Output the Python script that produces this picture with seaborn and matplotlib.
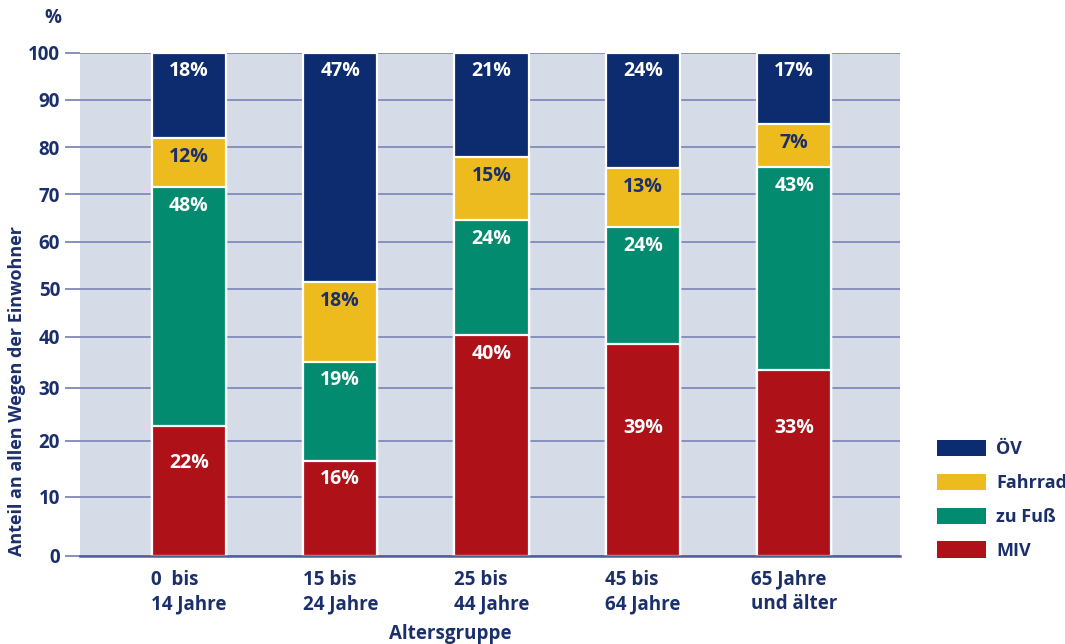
import numpy as np
import pandas as pd
import matplotlib
matplotlib.use("Agg")
import matplotlib.pyplot as plt
import seaborn as sns
from matplotlib.patches import Patch
from matplotlib.ticker import FixedLocator, FuncFormatter

# ---------------- data ----------------
categories = ["0  bis\n14 Jahre", "15 bis\n24 Jahre", "25 bis\n44 Jahre",
              "45 bis\n64 Jahre", "65 Jahre\nund älter"]
modes = ["MIV", "zu Fuß", "Fahrrad", "ÖV"]          # bottom -> top
miv = [22.8, 16.5, 40.4, 38.6, 33.5]
zu_fuss = [48.7, 18.6, 24.2, 24.5, 42.3]
fahrrad = [10.3, 16.3, 13.3, 12.5, 9.0]
oev = [18.2, 48.6, 22.1, 24.4, 15.2]
miv_lbl = ["22%", "16%", "40%", "39%", "33%"]
fuss_lbl = ["48%", "19%", "24%", "24%", "43%"]
rad_lbl = ["12%", "18%", "15%", "13%", "7%"]
oev_lbl = ["18%", "47%", "21%", "24%", "17%"]
y_ticks = [0, 10, 20, 30, 40, 50, 60, 70, 80, 90, 100]

# ---------------- style ----------------
C_OEV, C_RAD, C_FUSS, C_MIV = "#0c2c6f", "#eebb1e", "#038b70", "#ae1118"
NAVY = "#1b2f6b"
BG = "#d5dce8"
GRID = "#8790bb"
FONT = ["Open Sans", "DejaVu Sans"]
plt.rcParams["font.family"] = FONT
plt.rcParams["font.weight"] = "bold"

# non-uniform vertical axis of the original (gridline pixel rows)
grid_px = [555.7, 497, 441, 387.7, 336.7, 288.7, 241.7, 194.3, 147, 99.7, 52.7]
pos = [(grid_px[0] - p) / (grid_px[0] - grid_px[-1]) for p in grid_px]
vals_ext = [-100] + y_ticks + [200]
pos_ext = [-pos[1] * 10] + pos + [1 + (pos[-1] - pos[-2]) * 10]

def fwd(v):
    return np.interp(np.asarray(v, float), vals_ext, pos_ext)

def inv(p):
    return np.interp(np.asarray(p, float), pos_ext, vals_ext)

W, H = 1065, 644
fig = plt.figure(figsize=(W / 100, H / 100), dpi=100)
ax = fig.add_axes([80 / W, 1 - 555.7 / H, 820 / W, 503 / H])
ax.set_facecolor(BG)

df = pd.DataFrame({"cat": categories, "MIV": miv, "zu Fuß": zu_fuss,
                   "Fahrrad": fahrrad, "ÖV": oev})
cum = df[modes].cumsum(axis=1)
colors = {"MIV": C_MIV, "zu Fuß": C_FUSS, "Fahrrad": C_RAD, "ÖV": C_OEV}

# draw from the top layer downwards so lower layers overlay
for m in modes[::-1]:
    sns.barplot(x=df["cat"], y=cum[m], order=categories, color=colors[m],
                width=0.49, edgecolor="white", linewidth=1.6, saturation=1,
                ax=ax, zorder=3)

ax.set_yscale("function", functions=(fwd, inv))
ax.set_ylim(0, 100)
ax.set_xlim(-0.72, 4.70)
ax.yaxis.set_major_locator(FixedLocator(y_ticks))
ax.yaxis.set_minor_locator(FixedLocator([]))
ax.yaxis.set_major_formatter(FuncFormatter(lambda v, p: f"{v:.0f}"))
ax.set_axisbelow(True)
ax.grid(axis="y", color=GRID, linewidth=1.4, zorder=0)
ax.grid(axis="x", visible=False)
for s in ["top", "right", "left"]:
    ax.spines[s].set_visible(False)
ax.spines["bottom"].set_color("#4d6196")
ax.spines["bottom"].set_linewidth(1.8)
ax.spines["bottom"].set_zorder(5)

ax.tick_params(axis="y", length=10.8, width=1.4, color=GRID, pad=3.6,
               labelsize=13.5, labelcolor=NAVY)
ax.yaxis.get_major_ticks()[0].tick1line.set_color("#4d6196")
ax.tick_params(axis="x", length=0, pad=10, labelsize=13.5, labelcolor=NAVY)
for t in ax.get_xticklabels():
    t.set_multialignment("left")
    t.set_linespacing(1.3)
    t.set_fontweight("bold")
for t in ax.get_yticklabels():
    t.set_fontweight("bold")
ax.set_xlabel("")
ax.set_ylabel("")

# segment labels
seg_vals = [miv, zu_fuss, fahrrad, oev]
seg_lbls = [miv_lbl, fuss_lbl, rad_lbl, oev_lbl]
seg_txtc = ["white", "white", NAVY, "white"]
special_miv_y = {0: 16.1, 3: 22.4, 4: 22.4}
for j, m in enumerate(modes):
    for i in range(len(categories)):
        top = cum[m].iloc[i]
        if j == 0 and i in special_miv_y:
            ax.text(i, special_miv_y[i], seg_lbls[j][i], ha="center", va="center",
                    color=seg_txtc[j], fontsize=14, fontweight="bold", zorder=6)
        else:
            ax.annotate(seg_lbls[j][i], (i, top), xytext=(0, -13.5),
                        textcoords="offset points", ha="center", va="center",
                        color=seg_txtc[j], fontsize=14, fontweight="bold", zorder=6)

# texts outside axes
fig.text(17 / W, 1 - 556 / H, "Anteil an allen Wegen der Einwohner", rotation=90,
         ha="center", va="bottom", color=NAVY, fontsize=13, fontweight="bold")
fig.text(53 / W, 1 - 18 / H, "%", ha="center", va="center", color=NAVY,
         fontsize=13.5, fontweight="bold")
fig.text(450 / W, 1 - 634 / H, "Altersgruppe", ha="center", va="center",
         color=NAVY, fontsize=13.5, fontweight="bold")

handles = [Patch(facecolor=colors[m], edgecolor="none") for m in modes[::-1]]
fig.legend(handles, modes[::-1], loc="upper left",
           bbox_to_anchor=(936.7 / W, 1 - 440 / H), frameon=False,
           labelcolor=NAVY, handlelength=2.73, handleheight=1.0,
           handletextpad=0.55, labelspacing=0.86, borderpad=0, borderaxespad=0,
           prop={"weight": "bold", "size": 13})

fig.savefig("out.png", dpi=100)
